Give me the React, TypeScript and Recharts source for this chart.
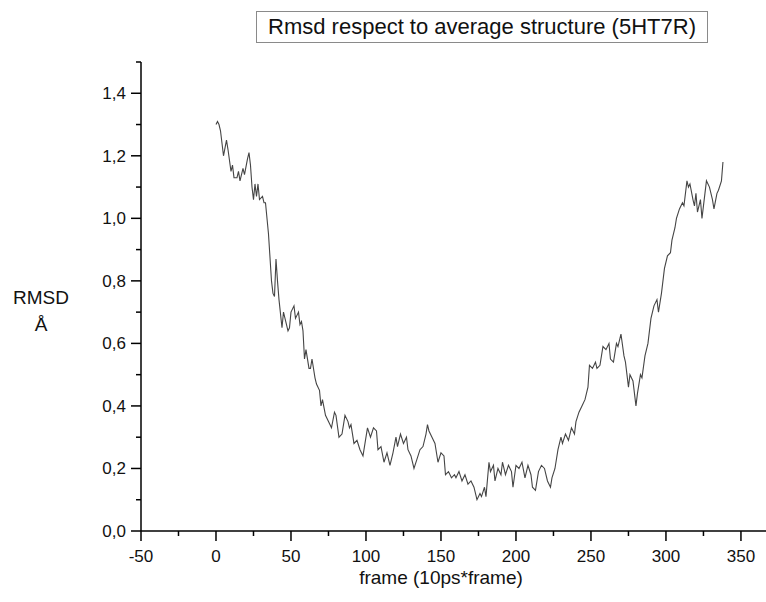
import React from "react";
import { LineChart, Line, XAxis, YAxis } from "recharts";

// frame index (x) and RMSD in Å (y)
const frames = [
  0, 1, 2, 3, 5, 7, 8, 10, 11, 12, 14, 15, 16, 18, 19, 21, 22, 23, 24, 25, 26, 27, 28, 29, 31, 32, 33, 35, 37, 38,
  39, 40, 41, 42, 44, 45, 46, 48, 49, 50, 52, 53, 55, 56, 57, 58, 59, 60, 62, 63, 64, 66, 67, 69, 70, 71, 73, 75, 77,
  79, 80, 82, 84, 86, 88, 89, 90, 92, 94, 96, 98, 100, 101, 103, 105, 107, 108, 110, 112, 114, 116, 118, 120, 121, 123,
  125, 127, 128, 130, 132, 134, 136, 138, 140, 141, 142, 144, 146, 148, 150, 152, 153, 155, 157, 159, 160, 162, 164,
  166, 168, 170, 172, 174, 176, 177, 179, 180, 182, 183, 185, 186, 188, 190, 191, 193, 195, 197, 198, 200, 202, 204,
  206, 208, 210, 211, 213, 215, 217, 219, 221, 223, 224, 226, 228, 230, 231, 233, 235, 237, 239, 240, 242, 244, 246,
  248, 249, 251, 253, 254, 256, 258, 260, 262, 263, 265, 267, 268, 270, 272, 273, 275, 276, 278, 280, 281, 283, 284,
  286, 288, 290, 292, 294, 295, 297, 299, 301, 303, 304, 306, 307, 309, 311, 312, 314, 315, 316, 318, 319, 320, 321,
  323, 324, 325, 327, 329, 331, 332, 334, 335, 337, 338,
];

const rmsd = [
  1.3, 1.31, 1.3, 1.28, 1.2, 1.25, 1.22, 1.15, 1.17, 1.13, 1.13, 1.15, 1.12, 1.16, 1.14, 1.19, 1.21, 1.17, 1.1, 1.06,
  1.11, 1.07, 1.11, 1.06, 1.07, 1.05, 1.05, 0.95, 0.8, 0.76, 0.75, 0.87, 0.8, 0.74, 0.65, 0.7, 0.68, 0.64, 0.65, 0.7,
  0.72, 0.68, 0.7, 0.66, 0.67, 0.64, 0.55, 0.58, 0.52, 0.52, 0.55, 0.49, 0.47, 0.45, 0.4, 0.42, 0.37, 0.35, 0.33,
  0.38, 0.37, 0.3, 0.31, 0.37, 0.35, 0.33, 0.34, 0.28, 0.29, 0.26, 0.24, 0.3, 0.33, 0.3, 0.33, 0.32, 0.26, 0.27, 0.22,
  0.25, 0.21, 0.25, 0.3, 0.27, 0.31, 0.28, 0.3, 0.26, 0.24, 0.2, 0.23, 0.26, 0.27, 0.31, 0.34, 0.32, 0.3, 0.28, 0.22,
  0.25, 0.24, 0.18, 0.19, 0.17, 0.18, 0.17, 0.19, 0.16, 0.18, 0.15, 0.16, 0.14, 0.1, 0.12, 0.11, 0.14, 0.11, 0.22,
  0.19, 0.21, 0.16, 0.2, 0.18, 0.22, 0.18, 0.21, 0.19, 0.14, 0.21, 0.2, 0.22, 0.17, 0.21, 0.18, 0.14, 0.13, 0.19, 0.21,
  0.2, 0.16, 0.14, 0.17, 0.2, 0.26, 0.3, 0.28, 0.31, 0.29, 0.33, 0.31, 0.35, 0.38, 0.4, 0.42, 0.46, 0.53, 0.52, 0.54,
  0.52, 0.53, 0.59, 0.58, 0.6, 0.55, 0.54, 0.6, 0.59, 0.63, 0.56, 0.54, 0.46, 0.5, 0.48, 0.4, 0.44, 0.5, 0.49, 0.56,
  0.6, 0.68, 0.72, 0.74, 0.7, 0.76, 0.84, 0.88, 0.89, 0.93, 0.97, 1.0, 1.03, 1.05, 1.04, 1.12, 1.1, 1.11, 1.06, 1.04,
  1.08, 1.02, 1.06, 1.0, 1.04, 1.12, 1.1, 1.06, 1.03, 1.08, 1.09, 1.12, 1.18,
];

const xTicks = [-50, -25, 0, 25, 50, 75, 100, 125, 150, 175, 200, 225, 250, 275, 300, 325, 350];
const yTicks = [0, 0.1, 0.2, 0.3, 0.4, 0.5, 0.6, 0.7, 0.8, 0.9, 1.0, 1.1, 1.2, 1.3, 1.4, 1.5];

const data = frames.map((frame, i) => ({ frame, rmsd: rmsd[i] }));

const FONT = "Arial, 'Liberation Sans', sans-serif";

function XTick(props: any) {
  const { x, y, payload } = props;
  const major = payload.value % 50 === 0;
  return (
    <g>
      <line x1={x} x2={x} y1={y} y2={y + (major ? 10 : 5)} stroke="#000" strokeWidth={1.5} />
      {major && (
        <text x={x} y={y + 31} textAnchor="middle" fontSize={17} fontFamily={FONT} fill="#111">
          {payload.value}
        </text>
      )}
    </g>
  );
}

function YTick(props: any) {
  const { x, y, payload } = props;
  const tenths = Math.round(payload.value * 10);
  const major = tenths % 2 === 0;
  return (
    <g>
      <line x1={x} x2={x - (major ? 10 : 5)} y1={y} y2={y} stroke="#000" strokeWidth={1.5} />
      {major && (
        <text x={x - 15} y={y} dy="0.35em" textAnchor="end" fontSize={17} fontFamily={FONT} fill="#111">
          {payload.value.toFixed(1).replace(".", ",")}
        </text>
      )}
    </g>
  );
}

export default function App() {
  return (
    <div style={{ position: "absolute", left: 0, top: 0, width: 766, height: 602, background: "#fff", fontFamily: FONT }}>
      <LineChart width={766} height={602} data={data} margin={{ top: 62, right: 0, bottom: 0, left: 0 }}>
        <XAxis
          type="number"
          dataKey="frame"
          domain={[-50, 366.7]}
          ticks={xTicks}
          interval={0}
          allowDataOverflow
          height={71}
          tickSize={0}
          tickMargin={0}
          tickLine={false}
          axisLine={{ stroke: "#000", strokeWidth: 1.5 }}
          tick={<XTick />}
        />
        <YAxis
          type="number"
          domain={[0, 1.5]}
          ticks={yTicks}
          interval={0}
          allowDataOverflow
          width={141}
          tickSize={0}
          tickMargin={0}
          tickLine={false}
          axisLine={{ stroke: "#000", strokeWidth: 1.5 }}
          tick={<YTick />}
        />
        <Line
          type="linear"
          dataKey="rmsd"
          stroke="#454545"
          strokeWidth={1.1}
          dot={false}
          isAnimationActive={false}
        />
      </LineChart>

      <div
        style={{
          position: "absolute",
          left: 256,
          top: 11,
          width: 452,
          height: 32,
          border: "1px solid #8a8a8a",
          boxSizing: "border-box",
          textAlign: "center",
          lineHeight: "30px",
          fontSize: 22,
          color: "#111",
          whiteSpace: "nowrap",
        }}
      >
        Rmsd respect to average structure (5HT7R)
      </div>

      <div style={{ position: "absolute", left: 0, top: 284, width: 82, textAlign: "center", fontSize: 19, lineHeight: "27px", color: "#111" }}>
        RMSD
        <br />Å
      </div>

      <div style={{ position: "absolute", left: 291, top: 567, width: 300, textAlign: "center", fontSize: 19, color: "#111" }}>
        frame (10ps*frame)
      </div>
    </div>
  );
}
